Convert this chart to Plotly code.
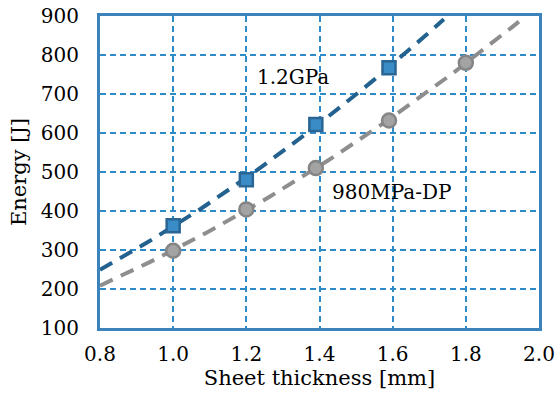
import numpy as np
import plotly.graph_objects as go

# Data
thk_12gpa = [1.0, 1.2, 1.39, 1.59]
energy_12gpa = [362, 480, 622, 767]
thk_980dp = [1.0, 1.2, 1.39, 1.59, 1.8]
energy_980dp = [298, 404, 510, 632, 780]

# fitted trend range (x extent of each dashed fit curve)
fit_range_12gpa = [0.8, 1.74]
fit_range_980dp = [0.8, 1.945]

x_ticks = [0.8, 1.0, 1.2, 1.4, 1.6, 1.8, 2.0]
x_tick_labels = ["0.8", "1.0", "1.2", "1.4", "1.6", "1.8", "2.0"]
y_ticks = [100, 200, 300, 400, 500, 600, 700, 800, 900]

BLUE_DARK = "#23628f"
BLUE_FILL = "#3a8cc6"
BLUE_EDGE = "#2a6594"
GRID = "#2f8ac8"
AXIS = "#3a83bd"
GRAY_LINE = "#8e8e8e"
GRAY_FILL = "#a3a3a3"
GRAY_EDGE = "#858585"
FONT = "DejaVu Serif"
FS = 20
TFS = 21

def fit_curve(xs, ys, rng):
    c = np.polyfit(xs, ys, 2)
    xx = np.linspace(rng[0], rng[1], 60)
    return xx, np.polyval(c, xx)

fig = go.Figure()

fx, fy = fit_curve(thk_12gpa, energy_12gpa, fit_range_12gpa)
fig.add_trace(go.Scatter(x=fx, y=fy, mode="lines",
                         line=dict(color=BLUE_DARK, width=4, dash="14px,9px"),
                         showlegend=False, hoverinfo="skip"))
gx, gy = fit_curve(thk_980dp, energy_980dp, fit_range_980dp)
fig.add_trace(go.Scatter(x=gx, y=gy, mode="lines",
                         line=dict(color=GRAY_LINE, width=4, dash="14px,9px"),
                         showlegend=False, hoverinfo="skip"))

fig.add_trace(go.Scatter(x=thk_12gpa, y=energy_12gpa, mode="markers", name="1.2GPa",
                         marker=dict(symbol="square", size=13, color=BLUE_FILL,
                                     line=dict(color=BLUE_EDGE, width=2.5)),
                         showlegend=False))
fig.add_trace(go.Scatter(x=thk_980dp, y=energy_980dp, mode="markers", name="980MPa-DP",
                         marker=dict(symbol="circle", size=14, color=GRAY_FILL,
                                     line=dict(color=GRAY_EDGE, width=2.5)),
                         showlegend=False))

fig.add_annotation(x=1.327, y=744, text="1.2GPa", showarrow=False,
                   font=dict(family=FONT, size=FS, color="#000"))
fig.add_annotation(x=1.598, y=449, text="980MPa-DP", showarrow=False,
                   font=dict(family=FONT, size=FS, color="#000"))

fig.update_layout(
    width=557, height=394,
    margin=dict(l=100, r=18, t=16, b=66),
    paper_bgcolor="white", plot_bgcolor="white",
    font=dict(family=FONT, size=FS, color="#000"),
    xaxis=dict(range=[0.8, 2.0], tickvals=x_ticks, ticktext=x_tick_labels,
               automargin=False,
               showgrid=True, gridcolor=GRID, gridwidth=2, griddash="6px,4px",
               showline=True, linecolor=AXIS, linewidth=3, mirror=True,
               zeroline=False, ticks="", ticklabelstandoff=6,
               title=dict(text="Sheet thickness [mm]", standoff=5,
                          font=dict(family=FONT, size=TFS))),
    yaxis=dict(range=[100, 900], tickvals=y_ticks, automargin=False,
               showgrid=True, gridcolor=GRID, gridwidth=2, griddash="6px,4px",
               showline=True, linecolor=AXIS, linewidth=3, mirror=True,
               zeroline=False, ticks="", ticklabelstandoff=14,
               title=dict(text="Energy [J]", standoff=9,
                          font=dict(family=FONT, size=TFS))),
)

fig.write_html("out.html")
